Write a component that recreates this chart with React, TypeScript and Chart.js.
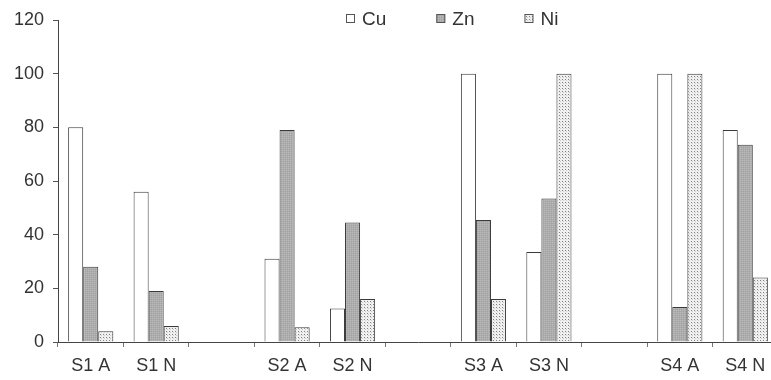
import React, { useEffect, useRef } from "react";
import { Chart, registerables } from "chart.js";
Chart.register(...registerables);

const categories = ["S1 A", "S1 N", "", "S2 A", "S2 N", "", "S3 A", "S3 N", "", "S4 A", "S4 N"];
const cuValues = [80, 56, null, 31, 12.5, null, 100, 33.5, null, 100, 79];
const znValues = [28, 19, null, 79, 44.5, null, 45.5, 53.5, null, 13, 73.5];
const niValues = [4, 6, null, 5.5, 16, null, 16, 100, null, 100, 24];
const seriesNames = ["Cu", "Zn", "Ni"];
const yMin = 0;
const yMax = 120;
const yStep = 20;

const FONT = "'Liberation Sans', Arial, Helvetica, sans-serif";
const TEXT = "#333333";
const EDGE = "#3a3a3a";

function makePattern(size: number, bg: string, pixels: [number, number, string][]) {
  const c = document.createElement("canvas");
  c.width = size;
  c.height = size;
  const g = c.getContext("2d")!;
  g.fillStyle = bg;
  g.fillRect(0, 0, size, size);
  for (const [x, y, col] of pixels) {
    g.fillStyle = col;
    g.fillRect(x, y, 1, 1);
  }
  return g.createPattern(c, "repeat")!;
}

export default function App() {
  const ref = useRef<HTMLCanvasElement | null>(null);

  useEffect(() => {
    const canvas = ref.current!;
    const ctx0 = canvas.getContext("2d")!;
    const cuFill = "#ffffff";
    const znFill = makePattern(2, "#adadad", [[0, 0, "#b9b9b9"], [1, 1, "#a2a2a2"]]);
    const niFill = makePattern(3, "#f0f0f0", [[1, 1, "#808080"], [2, 2, "#cccccc"]]);
    const fills = [cuFill, znFill, niFill];

    const legendPlugin = {
      id: "customLegend",
      afterDraw(chart: any) {
        const ctx = chart.ctx as CanvasRenderingContext2D;
        ctx.save();
        ctx.font = `19px ${FONT}`;
        ctx.textBaseline = "middle";
        let x = 346;
        const yMid = 19;
        seriesNames.forEach((name, i) => {
          ctx.fillStyle = fills[i] as any;
          ctx.fillRect(x, yMid - 5, 9, 9);
          ctx.strokeStyle = "#555";
          ctx.lineWidth = 1;
          ctx.strokeRect(x + 0.5, yMid - 4.5, 8, 8);
          ctx.fillStyle = TEXT;
          ctx.fillText(name, x + 16, yMid + 1);
          x += 16 + ctx.measureText(name).width + 50;
        });
        ctx.restore();
      },
    };

    const chart = new Chart(ctx0, {
      type: "bar",
      data: {
        labels: categories,
        datasets: [
          { label: seriesNames[0], data: cuValues, backgroundColor: fills[0] as any, borderColor: EDGE, borderWidth: 1 },
          { label: seriesNames[1], data: znValues, backgroundColor: fills[1] as any, borderColor: EDGE, borderWidth: 1 },
          { label: seriesNames[2], data: niValues, backgroundColor: fills[2] as any, borderColor: EDGE, borderWidth: 1 },
        ],
      },
      options: {
        responsive: false,
        animation: false,
        devicePixelRatio: 1,
        layout: { padding: { top: 20, left: 0, right: 0, bottom: 0 } },
        plugins: { legend: { display: false }, tooltip: { enabled: false } },
        datasets: { bar: { barPercentage: 1, categoryPercentage: 0.69, grouped: true } },
        scales: {
          x: {
            offset: true,
            grid: { display: true, drawOnChartArea: false, drawTicks: true, tickLength: 5, color: "#777", offset: true },
            border: { display: true, color: "#444", width: 1 },
            ticks: { autoSkip: false, maxRotation: 0, minRotation: 0, color: TEXT, font: { family: FONT, size: 18 }, padding: 8 },
            afterFit(scale: any) { scale.height = 38; },
          },
          y: {
            min: yMin,
            max: yMax,
            grid: { display: true, drawOnChartArea: false, drawTicks: true, tickLength: 5, color: "#555" },
            border: { display: true, color: "#444", width: 1 },
            ticks: { stepSize: yStep, color: TEXT, font: { family: FONT, size: 18 }, padding: 9 },
            afterFit(scale: any) { scale.width = 58; },
          },
        },
      },
      plugins: [legendPlugin],
    } as any);
    return () => chart.destroy();
  }, []);

  return (
    <div style={{ position: "absolute", left: 0, top: 0, width: 771, height: 380, overflow: "hidden", background: "#fff" }}>
      <div style={{ width: 778, height: 380 }}>
        <canvas ref={ref} width={778} height={380} style={{ display: "block" }} />
      </div>
    </div>
  );
}
